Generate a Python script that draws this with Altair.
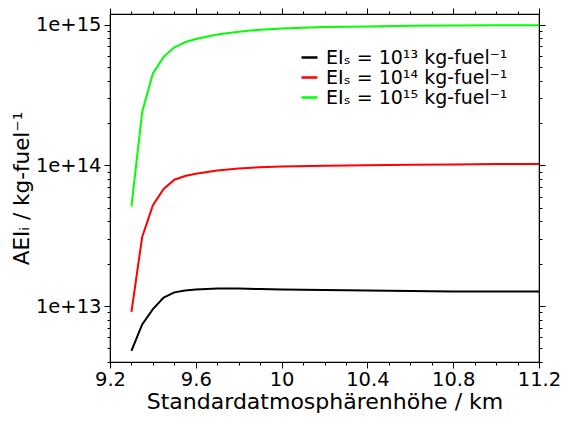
import altair as alt
import pandas as pd

x_vals = [9.3, 9.35, 9.4, 9.45, 9.5, 9.55, 9.6, 9.7, 9.8, 9.9, 10.0, 10.2, 10.4, 10.6, 10.8, 11.0, 11.2]
black = [4.8e12, 7.4e12, 9.5e12, 1.15e13, 1.25e13, 1.29e13, 1.31e13, 1.33e13, 1.33e13, 1.32e13, 1.31e13, 1.30e13, 1.29e13, 1.28e13, 1.27e13, 1.27e13, 1.27e13]
red = [9.1e12, 3.1e13, 5.2e13, 6.8e13, 7.9e13, 8.4e13, 8.7e13, 9.2e13, 9.5e13, 9.7e13, 9.8e13, 9.95e13, 1.0e14, 1.01e14, 1.015e14, 1.02e14, 1.02e14]
green = [5.1e13, 2.4e14, 4.5e14, 5.9e14, 6.9e14, 7.5e14, 7.9e14, 8.5e14, 8.9e14, 9.2e14, 9.4e14, 9.6e14, 9.7e14, 9.8e14, 9.85e14, 9.9e14, 9.9e14]

labels = ["EIₛ = 10¹³ kg-fuel⁻¹", "EIₛ = 10¹⁴ kg-fuel⁻¹", "EIₛ = 10¹⁵ kg-fuel⁻¹"]
colors = ["#000000", "#ff0000", "#00ff00"]

rows = []
for lab, ys in zip(labels, [black, red, green]):
    for xv, yv in zip(x_vals, ys):
        rows.append({"x": xv, "y": yv, "s": lab})
df = pd.DataFrame(rows)

x_ticks = [round(9.2 + 0.1 * i, 1) for i in range(21)]
y_ticks = []
for e in [12, 13, 14, 15]:
    for m in range(1, 10):
        v = m * 10 ** e
        if 4e12 <= v <= 1.19e15:
            y_ticks.append(float(v))

font = "DejaVu Sans"
is_major_x = "round(datum.value*10) % 4 == 0"
is_major_y = "abs(log(datum.value)/LN10 - round(log(datum.value)/LN10)) < 0.001"
xtick = {"condition": {"test": is_major_x, "value": 6}, "value": 3}
ytick = {"condition": {"test": is_major_y, "value": 6}, "value": 3}

xscale = alt.Scale(domain=[9.2, 11.2], nice=False, zero=False)
yscale = alt.Scale(type="log", domain=[4.0e12, 1.19e15], nice=False)

common = dict(grid=False, domainColor="black", tickColor="black", labelColor="black",
              titleColor="black", labelFont=font, titleFont=font, titleFontWeight="normal")

lines = alt.Chart(df).mark_line(strokeWidth=2).encode(
    x=alt.X("x:Q", scale=xscale, title="Standardatmosphärenhöhe / km",
            axis=alt.Axis(values=x_ticks, labelExpr=f"({is_major_x}) ? format(datum.value, '~g') : ''",
                          tickSize=xtick, labelFontSize=19.5, titleFontSize=22,
                          labelPadding=2, titlePadding=3, labelFlush=False, **common)),
    y=alt.Y("y:Q", scale=yscale, title="AEIᵢ / kg-fuel⁻¹",
            axis=alt.Axis(values=y_ticks, labelExpr=f"({is_major_y}) ? '1e+' + round(log(datum.value)/LN10) : ''",
                          tickSize=ytick, labelFontSize=19.5, titleFontSize=21.5,
                          labelPadding=3, titlePadding=2, labelOverlap=False, **common)),
    color=alt.Color("s:N", scale=alt.Scale(domain=labels, range=colors), title=None,
                    legend=alt.Legend(orient="none", legendX=190, legendY=34, symbolType="stroke",
                                      symbolSize=256, symbolStrokeWidth=2.5, labelFontSize=19,
                                      labelFont=font, labelColor="black", rowPadding=0,
                                      labelOffset=7, labelLimit=400)),
)

mirror = alt.Chart(df).mark_line(opacity=0).encode(
    x=alt.X("x:Q", scale=xscale, title=None,
            axis=alt.Axis(orient="top", values=x_ticks, labels=False, tickSize=xtick, **common)),
    y=alt.Y("y:Q", scale=yscale, title=None,
            axis=alt.Axis(orient="right", values=y_ticks, labels=False, tickSize=ytick, **common)),
)

chart = alt.layer(lines, mirror).resolve_axis(x="independent", y="independent").properties(
    width=429, height=348,
    autosize=alt.AutoSizeParams(type="none"),
    padding={"left": 102, "top": 6, "right": 24, "bottom": 55},
).configure_view(stroke="black", strokeWidth=1.2)

chart.save("out.html", embed_options={"renderer": "svg", "actions": False})
